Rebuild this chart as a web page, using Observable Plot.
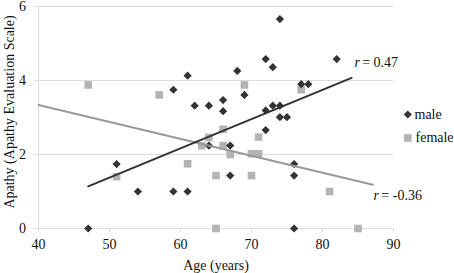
<!DOCTYPE html>
<html><head><meta charset="utf-8">
<script src="https://cdn.jsdelivr.net/npm/d3@7"></script>
<script src="https://cdn.jsdelivr.net/npm/@observablehq/plot@0.6"></script>
<style>html,body{margin:0;padding:0;background:#fff}svg{display:block}</style>
</head><body><div id="chart"></div>
<script>
const maleAge = [47,51,54,59,59,61,61,62,64,64,66,66,67,67,68,69,72,72,72,73,73,74,74,74,75,76,76,76,77,78,82];
const maleApathy = [0,1.74,1.0,3.75,1.0,4.13,1.0,3.32,3.32,2.24,3.47,3.17,2.24,1.43,4.26,3.61,4.58,3.19,2.66,4.36,3.32,5.66,3.32,3.01,3.01,1.74,1.43,0,3.9,3.9,4.58];
const femaleAge = [47,51,57,61,63,64,65,65,66,66,67,69,70,70,71,71,77,81,85];
const femaleApathy = [3.88,1.40,3.61,1.75,2.24,2.46,1.43,0,2.68,2.24,2.0,3.88,2.02,1.43,2.47,2.02,3.75,1.0,0];
const maleTrendAge = [47, 84.1];
const maleTrendApathy = [1.14, 4.07];
const femaleTrendAge = [40, 87.1];
const femaleTrendApathy = [3.34, 1.18];
const xTicks = [40,50,60,70,80,90];
const yTicks = [0,2,4,6];
const seriesNames = ["male","female"];
const rValues = ["= 0.47","= -0.36"];
const rAge = [84.5, 87.2];
const rApathy = [4.49, 0.885];
const xLabel = "Age (years)";
const yLabel = "Apathy (Apathy Evaluation Scale)";

const male = maleAge.map((a,i)=>({age:a, v:maleApathy[i]}));
const female = femaleAge.map((a,i)=>({age:a, v:femaleApathy[i]}));
const maleTrend = maleTrendAge.map((a,i)=>({age:a, v:maleTrendApathy[i]}));
const femaleTrend = femaleTrendAge.map((a,i)=>({age:a, v:femaleTrendApathy[i]}));
const rAnn = rValues.map((t,i)=>({t, age:rAge[i], v:rApathy[i]}));

const GRID = "#dcdcdc", MALE = "#333333", FEMALE = "#b3b3b3";
const font = "Liberation Serif, Times New Roman, serif";

const chart = Plot.plot({
  width: 454, height: 273,
  marginLeft: 38, marginRight: 61, marginTop: 6, marginBottom: 45,
  style: {fontFamily: font, fontSize: "14px", color: "#111", background: "#fff"},
  x: {domain: [40, 90]},
  y: {domain: [0, 6]},
  marks: [
    Plot.gridY(yTicks, {stroke: GRID, strokeOpacity: 1}),
    Plot.ruleX([40], {stroke: GRID}),
    Plot.axisY(yTicks, {tickSize: 4, tickPadding: 8.5, stroke: GRID, label: null, fill: "#111"}),
    Plot.axisX(xTicks, {tickSize: 4, tickPadding: 7, stroke: GRID, label: null, fill: "#111"}),
    Plot.text([xLabel], {frameAnchor: "bottom", lineAnchor: "middle", textAnchor: "middle", dy: 37.5, text: d => d, fontSize: 14}),
    Plot.text([yLabel], {frameAnchor: "left", lineAnchor: "middle", textAnchor: "middle", dx: -29, dy: -5.5, rotate: -90, text: d => d, fontSize: 14}),
    Plot.dot(female, {x: "age", y: "v", symbol: "square", r: 4.3, fill: FEMALE, stroke: null}),
    Plot.dot(male, {x: "age", y: "v", symbol: "diamond2", r: 3.7, fill: MALE, stroke: null}),
    Plot.line(femaleTrend, {x: "age", y: "v", stroke: "#999999", strokeWidth: 2}),
    Plot.line(maleTrend, {x: "age", y: "v", stroke: MALE, strokeWidth: 2}),
    Plot.text(rAnn, {x: "age", y: "v", text: () => "r", textAnchor: "start", fontStyle: "italic", fontSize: 14}),
    Plot.text(rAnn, {x: "age", y: "v", text: "t", textAnchor: "start", dx: 7.7, fontSize: 14}),
    Plot.dot([seriesNames[0]], {frameAnchor: "right", dx: 14.3, dy: -3, symbol: "diamond2", r: 3.7, fill: MALE}),
    Plot.text([seriesNames[0]], {frameAnchor: "right", lineAnchor: "middle", dx: 21, dy: -3, text: d => d, textAnchor: "start", fontSize: 14}),
    Plot.dot([seriesNames[1]], {frameAnchor: "right", dx: 14.3, dy: 20.5, symbol: "square", r: 4.3, fill: FEMALE}),
    Plot.text([seriesNames[1]], {frameAnchor: "right", lineAnchor: "middle", dx: 22, dy: 20.5, text: d => d, textAnchor: "start", fontSize: 14})
  ]
});
document.getElementById("chart").appendChild(chart);
</script></body></html>
